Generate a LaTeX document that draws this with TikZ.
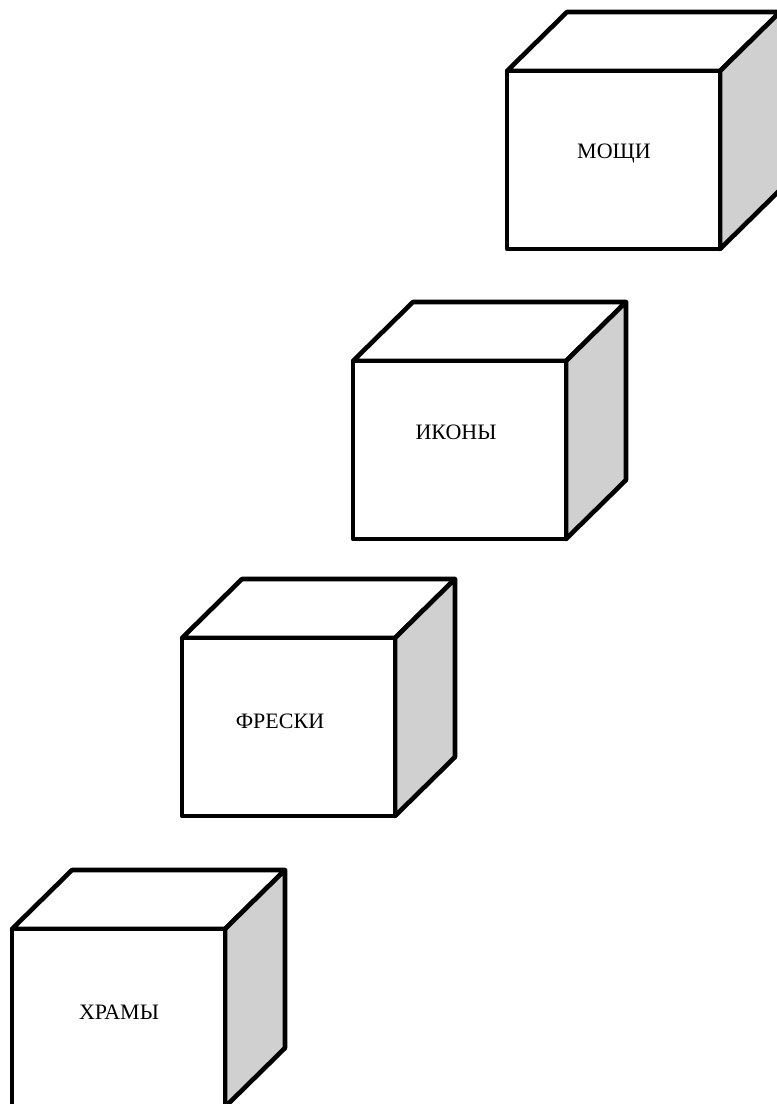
\documentclass[tikz,border=0pt]{standalone}
\usepackage{fontspec}
\setmainfont{Liberation Serif}
\definecolor{sidegrey}{HTML}{D0D0D0}
\tikzset{
  edge/.style={draw=black, line width=4.6pt, line join=round},
  label/.style={font=\fontsize{22}{26}\selectfont, inner sep=0pt, anchor=center}
}
% #1,#2: front top-left corner; #3: label; #4: node name; #5,#6: label centre
\newcommand\mycube[6]{%
  \path[edge, fill=white] (#1,#2) -- ++(60,-59) -- ++(213,0) -- ++(-60,59) -- cycle;
  \path[edge, fill=sidegrey] (#1+213,#2) -- ++(60,-59) -- ++(0,178) -- ++(-60,59) -- cycle;
  \path[edge, fill=white] (#1,#2) rectangle ++(213,178);
  \node[label] (#4) at (#5,#6) {#3};
}
\begin{document}
\begin{tikzpicture}[x=1pt, y=-1pt]
\useasboundingbox (0,0) rectangle (777,1104);
\mycube{507}{71}{МОЩИ}{moshchi}{614}{154}
\mycube{353}{361}{ИКОНЫ}{ikony}{456}{432}
\mycube{182}{638}{ФРЕСКИ}{freski}{280}{721}
\mycube{12}{929}{ХРАМЫ}{khramy}{119}{1012}
\end{tikzpicture}
\end{document}
